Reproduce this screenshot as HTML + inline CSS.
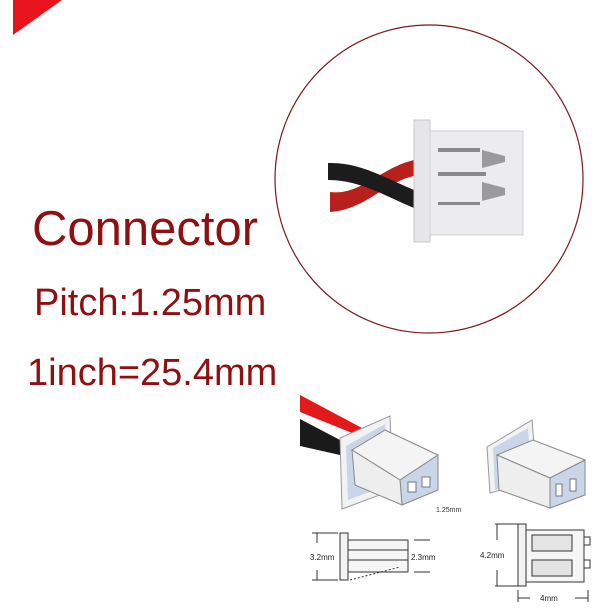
<!DOCTYPE html>
<html><head><style>
body{margin:0;width:610px;height:610px;background:#fff;overflow:hidden;position:relative;font-family:"Liberation Sans",Arial,sans-serif}
.t{position:absolute;color:#8e1010;white-space:nowrap;line-height:1}
</style></head><body>
<svg width="610" height="610" style="position:absolute;left:0;top:0" font-family="Liberation Sans, Arial, sans-serif">
<polygon points="13,0 62,0 13,35" fill="#e8141b"/>
<circle cx="429" cy="179" r="154" fill="none" stroke="#7a1a1a" stroke-width="1.2"/>
<!-- wires -->
<path d="M330,192 C360,196 380,168 414,160 L414,176 C385,182 365,210 330,212 Z" fill="#b8201c"/>
<path d="M328,163 C360,162 385,178 414,190 L414,208 C385,196 360,180 328,180 Z" fill="#1c1c1c"/>
<!-- connector body -->
<rect x="414" y="120" width="16" height="122" fill="#e6e6ea" stroke="#c8c8cc"/>
<rect x="430" y="131" width="93" height="104" fill="#ececef" stroke="#d0d0d4"/>
<rect x="438" y="148" width="42" height="4" fill="#8a8a8a"/>
<rect x="438" y="172" width="48" height="4" fill="#8a8a8a"/>
<rect x="438" y="202" width="42" height="3" fill="#8a8a8a"/>
<path d="M482,150 L505,156 L505,162 L482,168 Z" fill="#9a9a9a"/>
<path d="M482,182 L505,188 L505,195 L482,201 Z" fill="#9a9a9a"/>
<!-- lower left iso connector -->
<polygon points="300,395 362,428 362,437 300,412" fill="#e21a1a"/>
<polygon points="300,419 340,440 340,455 300,446" fill="#1a1a1a"/>
<polygon points="340,438 390,416 393,490 342,509" fill="#f2f2f4" stroke="#999"/>
<polygon points="346,446 385,424 388,485 348,500" fill="#c9d6ea"/>
<polygon points="352,450 385,430 438,455 400,480" fill="#f4f4f4" stroke="#888"/>
<polygon points="400,480 438,455 438,490 402,505" fill="#c9d6ea" stroke="#888"/>
<polygon points="352,450 400,480 402,505 355,485" fill="#eeeeee" stroke="#888"/>
<rect x="408" y="482" width="8" height="10" fill="#fff" stroke="#777"/>
<rect x="422" y="477" width="8" height="10" fill="#fff" stroke="#777"/>
<text x="436" y="512" font-size="7" fill="#333">1.25mm</text>
<!-- lower right iso connector -->
<polygon points="487,447 532,420 537,480 490,493" fill="#f2f2f4" stroke="#999"/>
<polygon points="493,448 528,428 532,478 495,490" fill="#c9d6ea"/>
<polygon points="497,455 533,440 585,460 550,478" fill="#f4f4f4" stroke="#888"/>
<polygon points="550,478 585,460 585,495 550,508" fill="#c9d6ea" stroke="#888"/>
<polygon points="497,455 550,478 550,508 499,490" fill="#eeeeee" stroke="#888"/>
<rect x="556" y="484" width="6" height="12" fill="#fff" stroke="#777"/>
<rect x="570" y="479" width="6" height="12" fill="#fff" stroke="#777"/>
<!-- bottom left drawing -->
<g stroke="#333" fill="none" stroke-width="1">
<line x1="312" y1="533" x2="338" y2="533"/><line x1="312" y1="580" x2="338" y2="580"/>
<line x1="317" y1="533" x2="317" y2="543"/><line x1="317" y1="570" x2="317" y2="580"/>
<rect x="340" y="533" width="8" height="47" fill="#f2f2f2"/>
<rect x="348" y="540" width="60" height="32" fill="#f6f6f6"/>
<line x1="348" y1="550" x2="408" y2="550"/><line x1="348" y1="560" x2="408" y2="560"/>
<line x1="414" y1="540" x2="430" y2="540"/><line x1="414" y1="572" x2="430" y2="572"/>
<path d="M350,580 L400,567" stroke-dasharray="2,2"/>
</g>
<text x="310" y="560" font-size="8" fill="#222">3.2mm</text>
<text x="411" y="560" font-size="8" fill="#222">2.3mm</text>
<!-- bottom right drawing -->
<g stroke="#333" fill="none" stroke-width="1">
<line x1="495" y1="524" x2="520" y2="524"/><line x1="495" y1="586" x2="520" y2="586"/>
<line x1="497" y1="524" x2="497" y2="540"/><line x1="497" y1="570" x2="497" y2="586"/>
<rect x="518" y="524" width="8" height="62" fill="#f2f2f2"/>
<rect x="526" y="530" width="58" height="52" fill="#f6f6f6"/>
<rect x="532" y="535" width="40" height="16" fill="#e4e4e4"/>
<rect x="532" y="560" width="40" height="16" fill="#e4e4e4"/>
<path d="M584,537 h6 v8 h-6 M584,560 h6 v8 h-6"/>
<line x1="518" y1="590" x2="518" y2="602"/><line x1="588" y1="590" x2="588" y2="602"/>
<line x1="518" y1="598" x2="530" y2="598"/><line x1="575" y1="598" x2="588" y2="598"/>
</g>
<text x="480" y="558" font-size="8" fill="#222">4.2mm</text>
<text x="540" y="601" font-size="8" fill="#222">4mm</text>
</svg>
<div class="t" style="left:32px;top:205px;font-size:49px">Connector</div>
<div class="t" style="left:34px;top:284px;font-size:38px">Pitch:1.25mm</div>
<div class="t" style="left:27px;top:354px;font-size:38px">1inch=25.4mm</div>
</body></html>
